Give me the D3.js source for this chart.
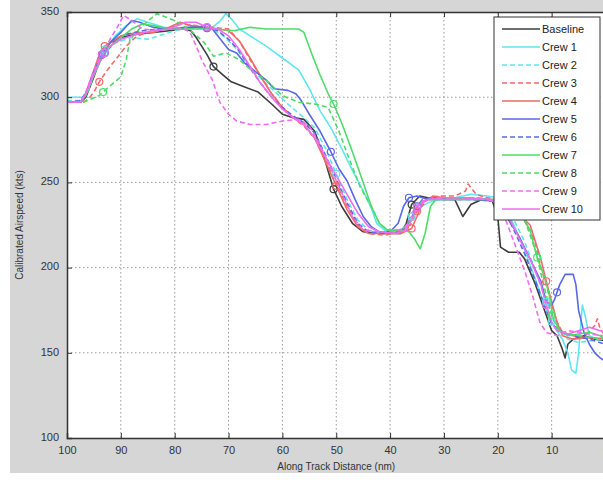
<!DOCTYPE html>
<html>
<head>
<meta charset="utf-8">
<script src="https://cdn.jsdelivr.net/npm/d3@7"></script>
<style>
  body { margin: 0; background: #fff; }
  text { font-family: "Liberation Sans", Arial, sans-serif; }
</style>
</head>
<body>
<div id="chart"></div>
<script>
// chart size (browser window)
var svgWidth = 603;
var svgHeight = 480;

var margin = { top: 12, left: 67 };

// tick labels
var xTicks = [100, 90, 80, 70, 60, 50, 40, 30, 20, 10, 0];
var yTicks = [100, 150, 200, 250, 300, 350];

// series names
var seriesNames = ["Baseline", "Crew 1", "Crew 2", "Crew 3", "Crew 4", "Crew 5",
                   "Crew 6", "Crew 7", "Crew 8", "Crew 9", "Crew 10"];

// [along track distance (nm), calibrated airspeed (kts)]
var baseline = [[100,297],[97.5,297],[96.5,300],[95,312],[93.5,325],[92,332],[90,335],[87,337],[84,338],[81,339],[78.5,340],[77,339],[76,335],[75,330],[74,325],[72.8,318],[71,313],[69.5,309],[67,306],[64.5,303],[62,296],[60,290],[58,288],[56,287],[54,280],[52,262],[50.5,246],[49,236],[47,226],[45,221],[42,220],[38,220],[37,226],[36,237],[34.5,242],[33,241],[30,240],[28,240],[26.5,230],[25,237],[23,240],[21,239],[20,230],[19.5,212],[18,209],[16,209],[15,205],[13,190],[11,172],[10,163],[9,160],[8,152],[7.5,147],[7,155],[6,158],[4,160],[2,158],[0,157]];
var crew1 = [[100,300],[97,300],[96,305],[94.5,320],[93,328],[91,336],[89,342],[87,346],[85,344],[82,341],[79,340],[76,341],[73,341],[71.5,345],[70.5,349],[69.5,346],[68,340],[66,336],[63,330],[60,323],[57,316],[55,305],[53,292],[51,282],[49,270],[47,257],[45,245],[43.5,235],[42.5,226],[41,222],[39,221],[37,223],[36,230],[35,234],[33,238],[31,240],[28,241],[25,243],[22,242],[20,241],[19,236],[17,225],[15,210],[13,193],[11,175],[9.5,165],[8,158],[7,150],[6.3,140],[5.5,138],[5,150],[4.3,178],[3.8,172],[3,160],[1.5,158],[0,160]];
var crew2 = [[100,298],[97.5,298],[96,304],[94.5,318],[93,326],[91,332],[88,335],[85,334],[82,337],[79,340],[76,341],[73,340],[71,336],[69,330],[67,322],[65,314],[62,305],[59,296],[56,288],[54,282],[52,270],[50,255],[48,240],[46,228],[44,222],[41,220],[38,221],[36,228],[35,237],[33,240],[30,240],[26,241],[22,240],[19,238],[17,228],[15,215],[13,198],[11,180],[9,166],[7,158],[5,156],[3,157],[0,158]];
var crew3 = [[100,297],[97,297],[96,299],[95,303],[94,309],[92.5,316],[91,322],[89,330],[87,336],[85,338],[82,340],[79,343],[76,342],[73,341],[70,340],[68,333],[66,322],[64,312],[62,302],[60,294],[58,288],[56,283],[54,276],[52,263],[50,250],[48,236],[46,225],[44,220],[41,219],[38,221],[36,226],[35,233],[33,240],[31,242],[28,242],[26,245],[25.5,249],[24,243],[22,241],[20,240],[18,238],[16,232],[14,222],[13,214],[12,200],[11,190],[10,178],[9,168],[8,162],[6,160],[4,159],[2,166],[1.5,170],[1,164],[0,160]];
var crew4 = [[100,297],[97.5,297],[96.5,302],[95,316],[94,325],[93,330],[91.5,333],[90,336],[87,338],[84,338],[81,341],[79,344],[77,342],[74,341],[72,340],[70,339],[68,333],[66,323],[64,312],[62,302],[60,294],[58,288],[56,284],[54,276],[52,262],[50,248],[48,234],[46,224],[44,220],[41,220],[38,220],[36,223],[35,230],[34,238],[32,242],[30,241],[27,241],[24,240],[21,240],[19,238],[17,232],[15,228],[14,225],[13,215],[12,205],[11,192],[10,180],[9,168],[8,160],[6,158],[3,159],[0,158]];
var crew5 = [[100,297],[97.5,297],[96.5,302],[95,315],[93.5,325],[92,332],[90,338],[88,345],[86.5,344],[84,341],[81,340],[78,341],[75,341],[73,340],[71.5,334],[70,328],[68.5,326],[67,320],[65,315],[63,310],[61.5,305],[59,304],[57.5,302],[56.5,298],[55,290],[53,280],[51,268],[49.5,258],[48,251],[46.5,240],[45,230],[43.5,224],[42,221],[40,221],[38.5,226],[37.5,236],[36.5,241],[35,242],[33,240],[30,240],[26,240],[22,240],[20,238],[18,228],[16,218],[14,205],[12,192],[11,180],[10,178],[9.5,181],[8.5,190],[7.5,196],[6,196],[5.5,190],[5,175],[4,162],[3,155],[2,150],[1,147],[0,145]];
var crew6 = [[100,297],[97.5,298],[96,305],[94.5,318],[93,326],[91,333],[89,337],[86,339],[83,340],[80,340],[77,341],[74,341],[72,339],[70,334],[68,327],[66,317],[64,308],[62,300],[60,294],[58,289],[56,285],[54,279],[52,266],[50,252],[48,238],[46,226],[44,221],[41,220],[38,221],[36,229],[35,236],[34,240],[32,241],[29,240],[25,240],[21,239],[19,235],[17,222],[15,208],[13,192],[11,175],[10,167],[8,162],[6,160],[3,158],[0,155]];
var crew7 = [[100,297],[97.5,297],[96.5,301],[95,313],[93.5,323],[92,330],[90,335],[88,340],[86,343],[84,342],[81,340],[78,340],[75,340],[72,340],[69,339],[66,341],[63,340],[60,340],[57,340],[56,338],[54.5,325],[53,313],[51.5,302],[50.5,296],[49,285],[47,268],[45,250],[43.5,236],[42,226],[40.5,222],[38.5,222],[36.5,221],[35.5,217],[34.4,211],[33.5,220],[32.5,236],[31.5,240],[29,240],[25,240],[22,240],[20,240],[18,238],[16,233],[14,222],[12.7,206],[11.5,196],[10.5,185],[9.7,170],[8.5,163],[7,160],[5,161],[3,162],[1,160],[0,158]];
var crew8 = [[100,297],[97,297],[95.5,299],[94,301],[93.3,303],[91.5,308],[90,312],[89,322],[88.3,334],[86,342],[83.3,349],[80,345],[77,339],[74.5,332],[72.8,324],[70.5,326],[68,322],[65.5,315],[63,310],[60,301],[57,297],[54,296],[51.5,294],[49.5,280],[47.5,263],[45.5,247],[43.5,236],[42,226],[40.5,222],[38,222],[36,228],[34.5,238],[33,240],[29,240],[25,241],[21,240],[18,238],[15,228],[13,210],[11.5,190],[10,172],[9,164],[7,161],[5,160],[3,159],[0,158]];
var crew9 = [[100,297],[97.5,297],[96.5,303],[95,316],[93.5,325],[92,334],[90.5,342],[89.5,348],[88,345],[86,340],[83,339],[80,341],[78,340],[77,337],[76,330],[75,322],[74,316],[73,310],[71.6,297],[70,290],[68.5,286],[66,284],[63,284],[60,286],[57,287],[55,283],[53,272],[51,258],[49,244],[47,230],[45,222],[42,221],[39,221],[37,224],[36,232],[34,239],[31,241],[27,241],[24,241],[21,240],[19,232],[17,215],[15,198],[13.5,183],[12.2,168],[11,162],[9,160],[7,163],[5,162],[3,161],[0,160]];
var crew10 = [[100,297],[97.5,297],[96.5,302],[95,314],[93.5,324],[92,330],[90,334],[87,337],[84,339],[81,340],[78,344],[76,344],[74,341],[72,340],[70,336],[68,328],[66,318],[64,308],[62,300],[60,293],[58,288],[56,284],[54,276],[52,265],[50,254],[48,243],[46,232],[44,224],[42,221],[39,220],[37,222],[36,228],[35,236],[33,240],[30,241],[26,241],[22,240],[20,238],[18,230],[16,217],[14,205],[12,190],[11,178],[10,168],[9,163],[7,161],[5,163],[3,165],[1,163],[0,162]];

// distances where each run has an event marker (open circle)
var markerDists = [[93.5, 72.8, 50.5, 36], [93, 36, 10], [93, 50, 11], [94, 35], [93, 50, 36, 11],
                   [93.5, 74, 51, 36.5, 9], [93, 74, 35], [50.5, 12.7], [93.3, 10], [93.5, 35], [93, 74, 11]];

var seriesData = [baseline, crew1, crew2, crew3, crew4, crew5, crew6, crew7, crew8, crew9, crew10];
var colors = ["#3c3c3c", "#5fe6ee", "#5fe6ee", "#f26a6a", "#f26a6a", "#5a68e6",
              "#5a68e6", "#4ddc6a", "#4ddc6a", "#f06cf0", "#f06cf0"];
var dashed = [false, false, true, true, false, false, true, false, true, true, false];

var svg = d3.select("#chart")
  .append("svg")
  .attr("width", svgWidth)
  .attr("height", svgHeight);

// grey figure background
svg.append("rect")
  .attr("x", 10).attr("y", 0)
  .attr("width", svgWidth - 10).attr("height", 473)
  .attr("fill", "#d6d6d6");

var chartGroup = svg.append("g")
  .attr("transform", `translate(${margin.left}, ${margin.top})`);

// x runs past the right window edge, as in the original screenshot
var xScale = d3.scaleLinear().domain([100, 0]).range([0, 538.5]);
var yScale = d3.scaleLinear().domain([100, 350]).range([426, 0]);
var plotW = xScale(0), plotH = yScale(100);

chartGroup.append("rect")
  .attr("width", plotW).attr("height", plotH)
  .attr("fill", "#fff");

chartGroup.append("clipPath").attr("id", "clip")
  .append("rect").attr("width", plotW).attr("height", plotH);

// dotted grid
chartGroup.selectAll("line.xgrid")
  .data(xTicks.slice(1, -1))
  .enter().append("line")
  .attr("class", "xgrid")
  .attr("x1", d => xScale(d)).attr("x2", d => xScale(d))
  .attr("y1", 0).attr("y2", plotH)
  .attr("stroke", "#9a9a9a").attr("stroke-width", 1)
  .attr("stroke-dasharray", "1.5,2.5");

chartGroup.selectAll("line.ygrid")
  .data(yTicks.slice(1, -1))
  .enter().append("line")
  .attr("class", "ygrid")
  .attr("x1", 0).attr("x2", plotW)
  .attr("y1", d => yScale(d)).attr("y2", d => yScale(d))
  .attr("stroke", "#9a9a9a").attr("stroke-width", 1)
  .attr("stroke-dasharray", "1.5,2.5");

// lines
var line = d3.line()
  .x(d => xScale(d[0]))
  .y(d => yScale(d[1]));

var linesGroup = chartGroup.append("g").attr("clip-path", "url(#clip)");

linesGroup.selectAll("path.run")
  .data(seriesData)
  .enter().append("path")
  .attr("class", "run")
  .attr("d", line)
  .attr("fill", "none")
  .attr("stroke", (d, i) => colors[i])
  .attr("stroke-width", 1.6)
  .attr("stroke-dasharray", (d, i) => dashed[i] ? "5,3" : null)
  .attr("stroke-linejoin", "round");

// event markers, placed on each run by interpolating its own samples
function speedAt(data, dist) {
  for (var k = 0; k < data.length - 1; k++) {
    var a = data[k], b = data[k + 1];
    if (dist <= a[0] && dist >= b[0]) {
      return a[1] + (b[1] - a[1]) * (a[0] - dist) / (a[0] - b[0]);
    }
  }
  return data[data.length - 1][1];
}

markerDists.forEach(function(dists, i) {
  linesGroup.selectAll("circle.m" + i)
    .data(dists)
    .enter().append("circle")
    .attr("class", "m" + i)
    .attr("cx", d => xScale(d))
    .attr("cy", d => yScale(speedAt(seriesData[i], d)))
    .attr("r", 3.5)
    .attr("fill", "none")
    .attr("stroke", colors[i])
    .attr("stroke-width", 1.2);
});

// axes (MATLAB style, ticks inside)
var bottomAxis = d3.axisBottom(xScale).tickValues(xTicks).tickSize(-5).tickPadding(8);
var leftAxis = d3.axisLeft(yScale).tickValues(yTicks).tickSize(-5).tickPadding(8);
var topAxis = d3.axisTop(xScale).tickValues(xTicks).tickSize(-5).tickFormat("");

var gx = chartGroup.append("g")
  .attr("transform", `translate(0, ${plotH})`)
  .call(bottomAxis);
var gy = chartGroup.append("g").call(leftAxis);
var gt = chartGroup.append("g").call(topAxis);

[gx, gy, gt].forEach(function(g) {
  g.select(".domain").attr("stroke", "#333").attr("stroke-width", 1.5);
  g.selectAll(".tick line").attr("stroke", "#333");
  g.selectAll("text").attr("fill", "#333").attr("font-size", 11)
    .attr("font-family", "'Liberation Sans', Arial, sans-serif");
});
gy.selectAll(".tick text").attr("dy", "0.2em");

// axis labels
chartGroup.append("text")
  .attr("transform", "rotate(-90)")
  .attr("x", -plotH / 2)
  .attr("y", -44)
  .attr("text-anchor", "middle")
  .attr("font-size", 10)
  .attr("fill", "#333")
  .text("Calibrated Airspeed (kts)");

chartGroup.append("text")
  .attr("x", xScale(50))
  .attr("y", plotH + 32)
  .attr("text-anchor", "middle")
  .attr("font-size", 10)
  .attr("fill", "#333")
  .text("Along Track Distance (nm)");

// legend
var legend = chartGroup.append("g")
  .attr("transform", `translate(${xScale(100) + 427}, 5)`);

legend.append("rect")
  .attr("width", 106).attr("height", 203)
  .attr("fill", "#fff")
  .attr("stroke", "#333").attr("stroke-width", 1);

var items = legend.selectAll("g.item")
  .data(seriesNames)
  .enter().append("g")
  .attr("class", "item")
  .attr("transform", (d, i) => `translate(0, ${12 + i * 18})`);

items.append("line")
  .attr("x1", 8).attr("x2", 46)
  .attr("stroke", (d, i) => colors[i])
  .attr("stroke-width", 1.6)
  .attr("stroke-dasharray", (d, i) => dashed[i] ? "5,3" : null);

items.append("text")
  .attr("x", 48).attr("y", 4)
  .attr("font-size", 11)
  .attr("fill", "#222")
  .text(d => d);
</script>
</body>
</html>
